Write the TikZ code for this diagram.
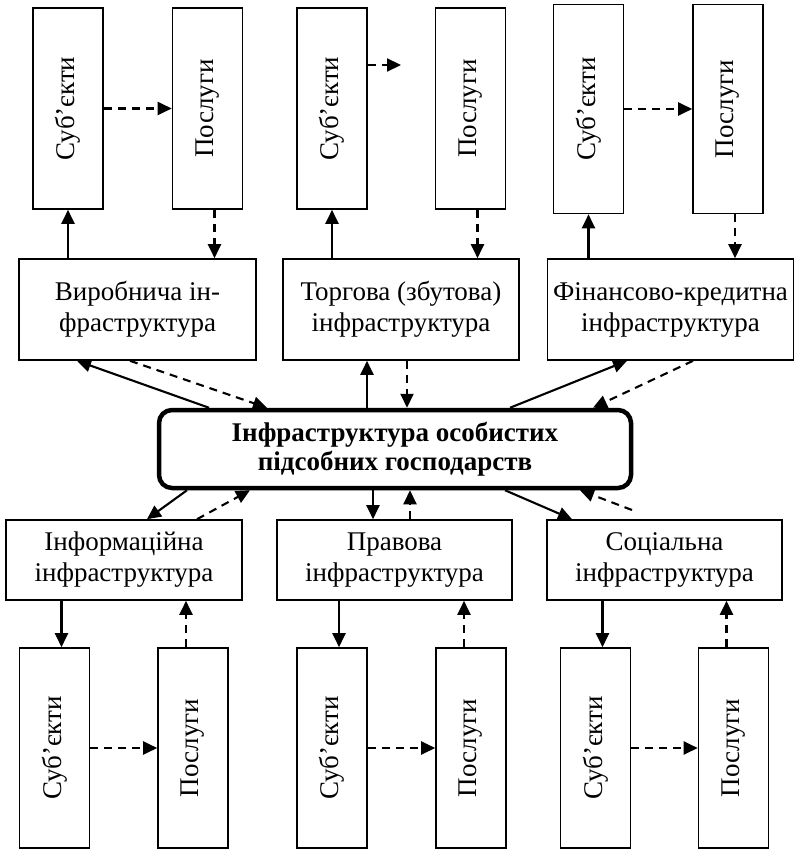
\documentclass[tikz,border=0pt]{standalone}
\usepackage{fontspec}
\setmainfont{Liberation Serif}
\usetikzlibrary{arrows.meta}
\begin{document}
\begin{tikzpicture}[x=1pt, y=-1pt,
    every node/.style={font=\fontsize{27}{31}\selectfont},
    vbox/.style={draw, line width=1.6pt, minimum width=70pt, minimum height=201pt, inner sep=0pt},
    hbox/.style={draw, line width=1.6pt, minimum height=101pt, align=center, inner sep=0pt},
    lowbox/.style={draw, line width=1.6pt, minimum height=80pt, align=center, inner sep=0pt},
    mainbox/.style={draw, line width=4.5pt, rounded corners=13pt, minimum width=472pt, minimum height=78pt, align=center,
        font=\fontsize{27}{29}\selectfont\bfseries},
    solidarr/.style={line width=2.1pt, -{Triangle[length=14pt, width=13pt]}},
    dasharr/.style={line width=2.1pt, dash pattern=on 8pt off 6pt, -{Triangle[length=14pt, width=13pt]}}]
    \useasboundingbox (0,0) rectangle (795,850);
    \node[vbox] (s1) at (68,108.5) {\rotatebox{90}{Суб’єкти}};
    \node[vbox] (p1) at (207.5,108.5) {\rotatebox{90}{Послуги}};
    \node[vbox] (s2) at (332,108.5) {\rotatebox{90}{Суб’єкти}};
    \node[vbox] (p2) at (470.5,108.5) {\rotatebox{90}{Послуги}};
    \node[vbox, minimum height=209pt] (s3) at (588.5,109) {\rotatebox{90}{Суб’єкти}};
    \node[vbox, minimum height=209pt] (p3) at (728,109) {\rotatebox{90}{Послуги}};
    \coordinate (s2end) at (401,65);
    \node[hbox, minimum width=237pt] (vyr) at (137.5,309.5) {Виробнича ін-\\фраструктура};
    \node[hbox, minimum width=236pt] (torh) at (401,309.5) {Торгова (збутова)\\інфраструктура};
    \node[hbox, minimum width=246pt] (fin) at (670.5,309.5) {Фінансово-кредитна\\інфраструктура};
    \node[mainbox] (cen) at (395,449) {Інфраструктура особистих\\підсобних господарств};
    \node[lowbox, minimum width=236pt] (inf) at (124,560) {Інформаційна\\інфраструктура};
    \node[lowbox, minimum width=235pt] (prav) at (394.5,560) {Правова\\інфраструктура};
    \node[lowbox, minimum width=235pt] (soc) at (664.5,560) {Соціальна\\інфраструктура};
    \coordinate (socgap) at (632,510);
    \node[vbox, minimum height=200pt] (s4) at (54.5,748) {\rotatebox{90}{Суб’єкти}};
    \node[vbox, minimum height=200pt] (p4) at (193,748) {\rotatebox{90}{Послуги}};
    \node[vbox, minimum height=200pt] (s5) at (332,748) {\rotatebox{90}{Суб’єкти}};
    \node[vbox, minimum height=200pt] (p5) at (471,748) {\rotatebox{90}{Послуги}};
    \node[vbox, minimum height=200pt] (s6) at (595.5,748) {\rotatebox{90}{Суб’єкти}};
    \node[vbox, minimum height=200pt] (p6) at (733.5,748) {\rotatebox{90}{Послуги}};
    \draw[dasharr] (s1.east) -- (p1.west);
    \draw[dasharr] (s2.east |- s2end) -- (s2end);
    \draw[dasharr] (s3.east) -- (p3.west);
    \draw[solidarr] (vyr.north -| s1) -- (s1.south);
    \draw[solidarr] (torh.north -| s2) -- (s2.south);
    \draw[solidarr] (fin.north -| s3) -- (s3.south);
    \draw[dasharr] ([xshift=7pt]p1.south) -- ([xshift=7pt]p1.south |- vyr.north);
    \draw[dasharr] ([xshift=7pt]p2.south) -- ([xshift=7pt]p2.south |- torh.north);
    \draw[dasharr] ([xshift=7pt]p3.south) -- ([xshift=7pt]p3.south |- fin.north);
    \draw[solidarr] ([xshift=-186pt]cen.north) -- ([xshift=-60.5pt]vyr.south);
    \draw[dasharr] ([xshift=-7.5pt]vyr.south) -- ([xshift=-128pt]cen.north);
    \draw[solidarr] ([xshift=-28pt]cen.north) -- ([xshift=-34pt]torh.south);
    \draw[dasharr] ([xshift=6pt]torh.south) -- ([xshift=12pt]cen.north);
    \draw[solidarr] ([xshift=115pt]cen.north) -- ([xshift=-43.5pt]fin.south);
    \draw[dasharr] ([xshift=22.5pt]fin.south) -- ([xshift=198pt]cen.north);
    \draw[solidarr] ([xshift=-208pt]cen.south) -- ([xshift=23pt]inf.north);
    \draw[dasharr] ([xshift=73pt]inf.north) -- ([xshift=-145pt]cen.south);
    \draw[solidarr] ([xshift=-22pt]cen.south) -- ([xshift=-21.5pt]prav.north);
    \draw[dasharr] ([xshift=15.5pt]prav.north) -- ([xshift=15pt]cen.south);
    \draw[solidarr] ([xshift=110pt]cen.south) -- ([xshift=-92.5pt]soc.north);
    \draw[dasharr] (socgap) -- ([xshift=185pt]cen.south);
    \draw[solidarr] ([xshift=7pt]s4.north |- inf.south) -- ([xshift=7pt]s4.north);
    \draw[dasharr] ([xshift=-7pt]p4.north) -- ([xshift=-7pt]p4.north |- inf.south);
    \draw[solidarr] ([xshift=7pt]s5.north |- prav.south) -- ([xshift=7pt]s5.north);
    \draw[dasharr] ([xshift=-7pt]p5.north) -- ([xshift=-7pt]p5.north |- prav.south);
    \draw[solidarr] ([xshift=7pt]s6.north |- soc.south) -- ([xshift=7pt]s6.north);
    \draw[dasharr] ([xshift=-7pt]p6.north) -- ([xshift=-7pt]p6.north |- soc.south);
    \draw[dasharr] (s4.east) -- (p4.west);
    \draw[dasharr] (s5.east) -- (p5.west);
    \draw[dasharr] (s6.east) -- (p6.west);
\end{tikzpicture}
\end{document}
